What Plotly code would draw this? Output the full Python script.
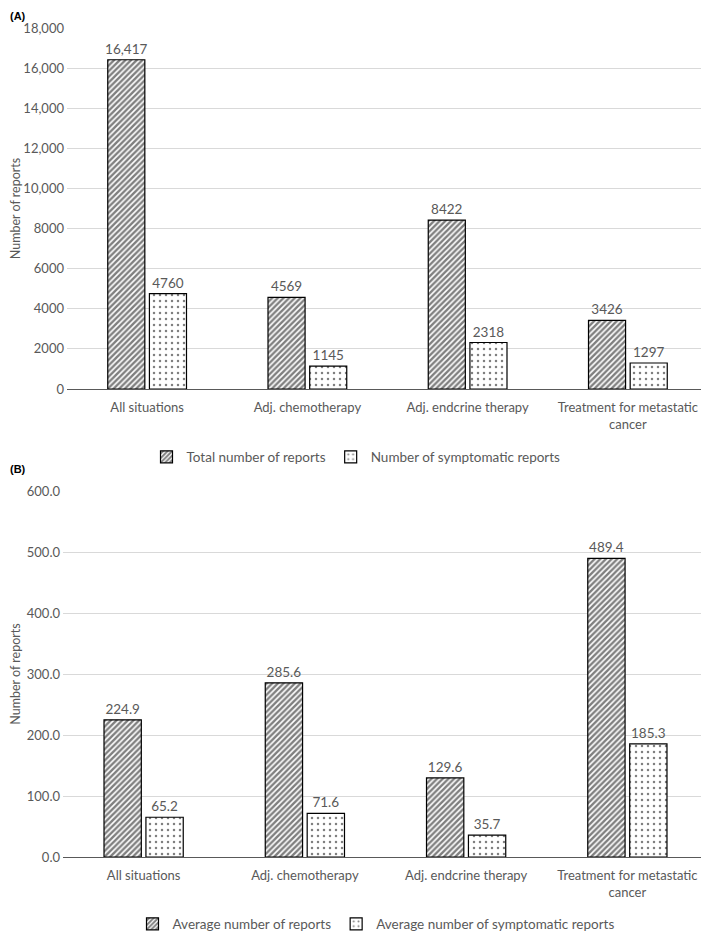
import plotly.graph_objects as go

categories = ["All situations", "Adj. chemotherapy", "Adj. endcrine therapy", "Treatment for metastatic<br>cancer"]
total_reports = [16417, 4569, 8422, 3426]
symptomatic_reports = [4760, 1145, 2318, 1297]
avg_reports = [224.9, 285.6, 129.6, 489.4]
avg_symptomatic = [65.2, 71.6, 35.7, 185.3]
top_ticks = [0, 2000, 4000, 6000, 8000, 10000, 12000, 14000, 16000, 18000]
bottom_ticks = [0, 100, 200, 300, 400, 500, 600]


def fmt_int(v):
    return f"{v:,}" if v >= 10000 else f"{v}"


FONT = "Lato"
GRAY = "#595959"
FS = 13.5
OFF = 8  # page body margin offset in pixels
W, H = 709, 931

hatch = dict(shape="/", fgcolor="black", bgcolor="white", size=4, solidity=0.6)
dots = dict(shape=".", fgcolor="black", bgcolor="white", size=6, solidity=0.14)


def bar(x, y, name, pattern, labels, xa, ya, lg):
    return go.Bar(x=x, y=y, name=name,
                  marker=dict(color="white", pattern=pattern, line=dict(color="black", width=1.2)),
                  text=labels, textposition="outside", constraintext="none",
                  textfont=dict(color=GRAY, size=FS, family=FONT), cliponaxis=False,
                  xaxis=xa, yaxis=ya, legend=lg)


fig = go.Figure()
fig.add_trace(bar(categories, total_reports, "Total number of reports", hatch,
                  [fmt_int(v) for v in total_reports], "x", "y", "legend"))
fig.add_trace(bar(categories, symptomatic_reports, "Number of symptomatic reports", dots,
                  [fmt_int(v) for v in symptomatic_reports], "x", "y", "legend"))
fig.add_trace(bar(categories, avg_reports, "Average number of reports", hatch,
                  [f"{v:.1f}" for v in avg_reports], "x2", "y2", "legend2"))
fig.add_trace(bar(categories, avg_symptomatic, "Average number of symptomatic reports", dots,
                  [f"{v:.1f}" for v in avg_symptomatic], "x2", "y2", "legend2"))

axis_common = dict(showgrid=False, showline=True, linecolor="#595959", linewidth=1.2,
                   ticks="", automargin=False, ticklabelstandoff=6,
                   tickfont=dict(color=GRAY, size=13, family=FONT))
yaxis_common = dict(showgrid=True, gridcolor="#d9d9d9", gridwidth=1, zeroline=False,
                    showline=False, ticks="", automargin=False, ticklabelstandoff=2,
                    tickfont=dict(color=GRAY, size=13, family=FONT),
                    title=dict(text="Number of reports", font=dict(color=GRAY, size=12.5, family=FONT), standoff=3))


def py(p):
    return 1 - (p - OFF) / H


def px(p):
    return (p - OFF) / W


fig.update_layout(
    width=W, height=H,
    margin=dict(l=0, r=0, t=0, b=0, autoexpand=False),
    paper_bgcolor="white", plot_bgcolor="white",
    font=dict(family=FONT, color=GRAY, size=FS),
    barmode="group", bargap=0.48, bargroupgap=0.11,
    xaxis=dict(domain=[px(67), px(708)], anchor="y", **axis_common),
    xaxis2=dict(domain=[px(63), px(708)], anchor="y2", **axis_common),
    yaxis=dict(domain=[py(389), py(28)], anchor="x", range=[0, 18000],
               tickvals=top_ticks, ticktext=[fmt_int(v) for v in top_ticks], **yaxis_common),
    yaxis2=dict(domain=[py(857), py(491)], anchor="x2", range=[0, 600],
                tickvals=bottom_ticks, ticktext=[f"{v:.1f}" for v in bottom_ticks], **yaxis_common),
    legend=dict(orientation="h", x=px(356), y=py(457), xanchor="center", yanchor="middle",
                font=dict(color=GRAY, size=FS, family=FONT), itemwidth=30),
    legend2=dict(orientation="h", x=px(376), y=py(924), xanchor="center", yanchor="middle",
                 font=dict(color=GRAY, size=FS, family=FONT), itemwidth=30),
    annotations=[
        dict(text="<b>(A)</b>", x=0.0, y=py(8), xref="paper", yref="paper", xanchor="left",
             yanchor="top", showarrow=False, font=dict(color="black", size=11, family="Liberation Sans")),
        dict(text="<b>(B)</b>", x=0.0, y=py(461), xref="paper", yref="paper", xanchor="left",
             yanchor="top", showarrow=False, font=dict(color="black", size=11, family="Liberation Sans")),
    ],
)

fig.write_html("out.html")
